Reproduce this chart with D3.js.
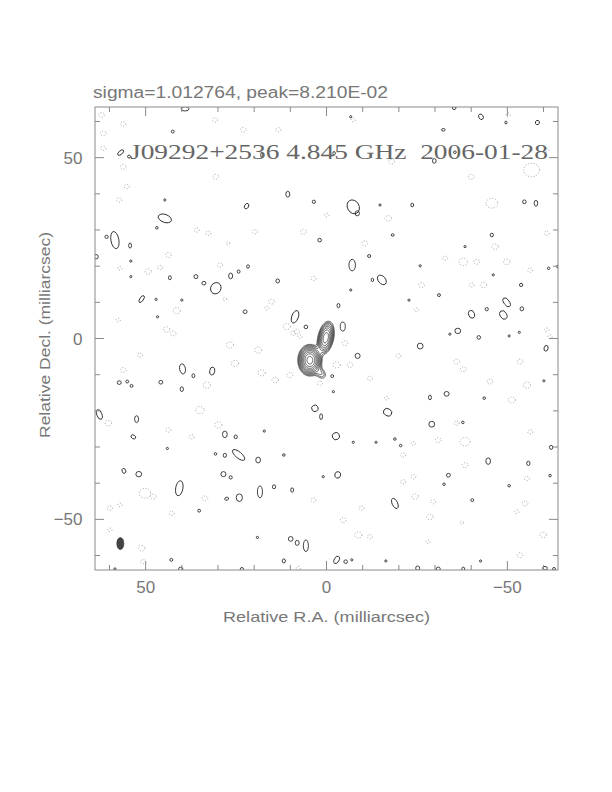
<!DOCTYPE html>
<html><head><meta charset="utf-8">
<script src="https://cdn.jsdelivr.net/npm/d3@7"></script>
<style>body{margin:0;background:#fff}</style></head>
<body>
<svg id="c" width="612" height="792"></svg>
<script>
// ---------- text ----------
const topTitle = "sigma=1.012764, peak=8.210E-02";
const mapLabel = "J09292+2536 4.845 GHz  2006-01-28";
const xTitle = "Relative R.A. (milliarcsec)";
const yTitle = "Relative Decl. (milliarcsec)";
// ---------- axes ----------
const raDomain = [64, -64];
const decDomain = [64, -64];
const majorTicks = [50, 0, -50];
const minorTicks = [60, 40, 30, 20, 10, -10, -20, -30, -40, -60];
// ---------- contour levels (mJy) ----------
const sigmaMJy = 1.012764;
const peakMJy = 82.10;
const levelSteps = [1, 1.414, 2, 2.828, 4, 5.657, 8, 11.31, 16, 22.63];
const lowestLevel = 3.0;
// ---------- core gaussian components ----------
const compRA  = [0.2, 4.6, 1.6];
const compDec = [0.2, -6.0, -9.6];
const compAmp = [44, 82.1, 6];
const compMaj = [2.0, 1.7, 1.3];
const compMin = [0.95, 1.3, 0.9];
const compPA  = [-12, 0, 40];
// ---------- restoring beam ----------
const beamPos = [57.0, -56.7];
const beamAxes = [0.97, 1.66];
// ---------- positive noise contours [ra, dec, halfRA, halfDec, tilt] ----------
const posBlobs = [
[39.1,63.5,1.1,0.6,0],[56.9,51.4,1.0,0.5,-40],[54.6,50.3,0.4,0.4,0],[42.5,57.2,0.4,0.4,0],
[17.8,50.7,0.4,0.7,0],[10.7,39.9,0.55,0.8,0],[3.5,37.8,0.45,0.45,0],[22.1,36.6,0.55,0.8,30],
[44.7,38.3,0.3,0.3,0],[44.7,33.2,1.9,1.1,20],[46.9,30.6,0.35,0.35,0],[58.5,27.2,1.1,2.4,-10],
[60.8,28.1,0.45,0.45,0],[54.3,25.7,0.4,0.7,0],[63.7,22.6,0.6,0.6,0],[54.1,21.4,0.3,0.3,0],
[1.9,27.2,0.5,0.5,0],[13.5,15.9,0.5,0.55,0],[43.3,16.8,0.4,0.55,0],[36.1,17.1,0.55,0.55,0],
[33.9,15.3,0.55,0.5,0],[30.6,13.9,1.4,1.6,30],[26.5,17.3,0.55,0.8,0],[24.3,18.5,0.4,0.45,0],
[21.7,19.9,0.4,0.45,0],[51.1,10.9,0.5,1.1,35],[47.1,10.8,0.3,0.3,0],[40.0,10.6,0.3,0.3,0],
[22.5,7.4,0.55,0.5,0],[46.7,6.0,0.3,0.3,0],[8.7,6.0,0.9,1.8,20],[5.7,3.2,0.5,0.5,0],
[54.1,17.1,0.3,0.3,0],[-35.3,63.7,0.5,0.4,0],[-42.7,61.3,0.6,0.8,-30],[-49.6,59.7,0.3,0.4,0],
[-58.3,59.7,0.55,0.6,20],[-32.3,57.7,0.5,0.35,0],[-2.1,51.2,0.35,0.5,0],[-35.5,51.5,0.4,0.35,0],
[-29.8,49.1,0.5,0.65,0],[-7.4,36.4,1.6,2.0,-30],[-8.5,34.6,0.6,0.7,0],[-14.8,36.9,0.3,0.3,0],
[-23.7,36.9,0.4,0.5,0],[-54.7,37.8,0.5,0.5,0],[-57.9,37.4,0.5,0.8,0],[-18.3,28.6,0.4,0.35,0],
[-45.7,28.6,0.45,0.5,0],[-38.3,25.4,0.3,0.3,0],[-7.1,20.3,0.9,1.6,0],[-11.8,22.8,0.45,0.4,0],
[-15.3,16.2,1.0,1.5,-40],[-12.7,16.2,0.35,0.45,0],[-25.9,20.1,0.3,0.3,0],[-46.1,17.6,0.3,0.3,0],
[-61.4,19.4,0.35,0.35,0],[-64.0,19.9,0.4,0.4,0],[-53.8,14.8,0.45,0.45,0],[-31.1,12.0,0.4,0.4,0],
[-49.8,10.0,0.75,1.4,-35],[-48.9,6.5,0.9,1.25,-30],[-40.1,6.7,0.8,1.1,-20],[-44.3,8.1,0.45,0.45,0],
[-54.0,8.2,0.5,0.55,0],[-3.3,9.1,0.4,0.6,0],[-4.5,3.3,0.7,1.25,0],[-36.3,2.1,0.8,0.75,0],
[-22.8,10.6,0.3,0.3,0],[-6.7,13.4,0.3,0.3,0],[-6.7,61.3,0.3,0.3,0],[39.8,-8.4,0.8,1.4,-10],
[36.8,-10.3,0.4,0.55,0],[31.6,-9.0,0.7,1.1,10],[57.3,-12.2,0.55,0.5,0],[55.1,-11.9,0.4,0.4,0],
[53.9,-13.1,0.4,0.4,0],[45.8,-12.1,0.55,0.5,0],[40.0,-14.0,0.45,0.65,0],[62.8,-21.0,0.7,1.4,-20],
[52.5,-22.3,0.55,0.95,0],[53.4,-27.2,0.7,0.5,30],[44.0,-30.4,0.3,0.3,0],[28.1,-26.5,0.65,0.9,0],
[25.1,-27.2,0.45,0.5,0],[17.2,-25.6,0.3,0.3,0],[3.2,-19.3,0.9,0.9,-30],[1.5,-21.6,0.4,0.8,0],
[30.7,-31.9,0.35,0.35,0],[28.1,-32.3,0.45,0.55,0],[24.3,-32.2,2.1,0.85,40],[18.9,-33.6,0.65,0.8,0],
[11.8,-32.2,0.35,0.35,0],[56.0,-36.6,0.5,0.7,-20],[51.9,-37.5,0.8,0.75,0],[28.5,-37.5,0.7,0.7,0],
[26.5,-38.4,0.45,0.45,0],[40.7,-41.4,1.0,2.1,10],[18.4,-42.4,0.7,1.65,0],[14.5,-41.0,0.45,0.55,0],
[9.5,-41.9,0.4,0.6,0],[24.1,-44.0,0.85,1.05,0],[27.6,-44.3,0.55,0.4,-20],[35.2,-47.6,0.4,0.4,0],
[19.1,-55.0,0.3,0.3,0],[9.9,-55.4,0.65,0.65,0],[8.1,-56.5,0.55,0.7,0],[5.7,-57.3,0.7,1.6,0],
[42.9,-61.2,0.4,0.4,0],[11.8,-61.5,0.45,0.55,0],[40.3,-63.8,0.6,0.6,0],[23.4,-63.8,0.45,0.5,0],
[58.5,-63.7,0.3,0.3,0],[-42.1,0.3,0.5,0.5,0],[-25.9,-2.1,0.8,0.8,0],[-8.6,-4.8,0.7,0.7,0],
[-60.7,-2.7,0.55,0.8,15],[-1.6,-10.4,0.4,0.4,0],[-33.2,-15.3,0.7,0.65,0],[-28.6,-16.3,0.4,0.65,0],
[-43.6,-16.5,0.35,0.35,0],[-16.9,-20.4,1.2,1.0,30],[-29.1,-23.7,0.8,0.8,0],[-37.7,-23.2,0.35,0.35,0],
[-2.6,-27.0,1.0,1.0,-30],[-18.9,-27.8,0.35,0.35,0],[-20.5,-29.6,0.35,0.35,0],[-7.4,-28.7,0.3,0.3,0],
[-13.7,-28.7,0.3,0.3,0],[-44.7,-33.9,0.65,0.9,0],[-55.8,-34.5,0.45,0.6,0],[-62.1,-30.1,0.45,0.55,0],
[-3.1,-37.7,0.8,0.9,20],[-33.7,-37.8,0.55,0.5,0],[-32.5,-40.3,0.35,0.35,0],[-50.5,-40.7,0.35,0.35,0],
[-61.8,-37.9,0.35,0.35,0],[0.9,-38.2,0.3,0.3,0],[-18.9,-45.6,0.75,1.5,-25],[-40.3,-44.7,0.4,0.4,0],
[-2.8,-61.2,0.65,1.1,30],[-5.3,-61.7,0.5,0.5,0],[-7.0,-61.2,0.3,0.3,0],[-25.2,-63.5,0.55,0.6,0],
[-30.9,-63.7,0.55,0.5,0],[-37.8,-63.7,0.4,0.5,0],[-60.4,-63.5,0.65,0.5,0],[-62.9,-63.7,0.4,0.4,0],
[-60.1,-11.7,0.3,0.3,0],[-34.1,1.2,0.3,0.3,0],[-50.5,0.7,0.3,0.3,0],[-53.3,1.7,0.3,0.3,0],
[-16.4,-61.5,0.3,0.3,0],[-42.6,-61.5,0.3,0.3,0],[-1.9,-14.7,0.3,0.3,0]
];
// ---------- negative (dotted) noise contours [ra, dec, radius] ----------
const negBlobs = [
[62.2,61.8,0.8],[56.2,59.3,0.7],[61.7,56.7,0.8],[61.7,52.6,0.7],[56.2,47.5,0.8],[30.8,60.4,0.7],
[30.6,44.7,0.8],[23.0,57.7,0.8],[13.3,57.7,0.7],[55.2,42.0,0.7],[57.3,38.3,0.7],[35.9,30.0,0.7],
[32.7,29.1,0.7],[19.8,29.5,0.7],[6.4,29.5,0.8],[43.7,23.1,0.8],[29.4,20.3,0.7],[49.3,18.5,0.9],
[46.0,19.6,0.7],[57.1,19.4,0.6],[3.6,16.6,0.7],[15.2,10.2,0.8],[41.4,7.7,1.0],[28.1,10.9,0.5],
[16.5,8.4,0.6],[11.0,3.3,1.0],[8.2,1.9,0.8],[44.2,2.5,0.9],[57.6,5.1,0.6],[27.2,26.3,0.5],
[-7.4,60.4,0.6],[-18.0,48.9,0.8],[-40.0,44.7,0.8],[-56.7,46.6,2.2],[-45.7,37.4,1.6],[-60.9,52.1,0.6],
[-17.1,33.2,0.9],[-10.6,26.3,0.8],[-46.6,25.4,0.9],[-32.8,22.2,0.7],[-37.8,21.2,1.2],[-41.5,21.2,0.8],
[-49.8,21.2,0.9],[-56.3,18.9,0.7],[-60.9,29.1,0.7],[-26.3,14.8,0.8],[-43.4,14.8,0.9],[-40.1,14.8,0.7],
[-24.9,7.9,0.6],[-0.1,34.1,0.6],[-50.2,61.8,0.6],[-60.9,2.4,0.6],[42.4,1.4,0.8],[26.7,-1.8,1.0],
[18.9,-3.2,1.0],[9.2,1.4,0.7],[7.3,0.5,0.6],[25.3,-6.9,1.0],[56.2,-8.7,0.8],[51.6,-4.6,0.7],
[17.9,-9.5,1.0],[14.2,-11.5,0.9],[33.1,-12.9,1.0],[35.0,-19.8,1.2],[29.9,-23.9,1.0],[43.7,-25.3,0.7],
[37.3,-27.2,0.7],[60.3,-23.4,0.9],[50.2,-42.8,1.6],[47.9,-43.7,0.8],[33.6,-44.2,0.8],[59.9,-46.9,0.7],
[57.1,-46.0,0.6],[42.8,-48.3,0.7],[3.6,-44.7,0.7],[59.9,-52.9,0.6],[51.1,-58.0,0.9],[50.7,-61.7,0.7],
[7.8,-63.5,0.6],[1.8,-12.4,0.7],[10.1,-10.1,0.8],[-5.1,-1.3,0.8],[-2.8,-7.3,1.0],[-6.5,-7.3,0.8],
[-19.9,-4.8,0.7],[-36.0,-6.4,0.8],[-37.8,-8.5,0.8],[-53.5,-6.4,0.8],[-45.2,-11.9,0.8],[-55.4,-12.9,1.0],
[-51.2,-17.0,1.0],[-12.0,-11.0,0.7],[-16.6,-16.5,0.6],[-36.0,-23.4,0.7],[-38.3,-28.5,1.4],[-30.9,-28.1,0.8],
[-24.0,-29.0,0.6],[-21.2,-32.2,0.7],[-38.3,-35.0,0.8],[-24.0,-38.2,0.7],[-21.2,-39.6,0.7],[-24.5,-43.7,0.9],
[-29.5,-45.1,0.7],[-28.6,-49.3,0.9],[-9.7,-46.9,0.7],[-54.9,-45.6,0.8],[-52.6,-47.9,0.6],[-55.4,-38.7,0.7],
[-56.3,-25.8,0.7],[-8.8,-54.3,1.0],[-12.0,-54.8,0.7],[-59.9,-54.3,0.9],[-53.5,-59.9,0.8],[-37.4,-50.9,0.5],
[-28.1,-56.2,0.6],[-4.6,-50.2,0.8],[-61.8,0.5,0.6]
];

// ---------- drawing ----------
const svg = d3.select("#c");
const x = d3.scaleLinear().domain(raDomain).range([95, 558]);
const y = d3.scaleLinear().domain(decDomain).range([107, 570]);
const kx = Math.abs(x(1) - x(0)), ky = Math.abs(y(1) - y(0));

svg.append("defs").append("clipPath").attr("id","clip")
  .append("rect").attr("x", x(raDomain[0])).attr("y", y(decDomain[0]))
  .attr("width", x(raDomain[1]) - x(raDomain[0])).attr("height", y(decDomain[1]) - y(decDomain[0]));

const plot = svg.append("g").attr("clip-path","url(#clip)");

// negative contours (dotted)
plot.append("g").selectAll("ellipse").data(negBlobs).join("ellipse")
  .attr("cx", d => x(d[0])).attr("cy", d => y(d[1]))
  .attr("rx", d => d[2] * kx).attr("ry", d => d[2] * ky * 0.85)
  .attr("fill","none").attr("stroke","#999").attr("stroke-width",0.9)
  .attr("stroke-dasharray","1 1.8");

// positive noise contours
plot.append("g").selectAll("ellipse").data(posBlobs).join("ellipse")
  .attr("cx", d => x(d[0])).attr("cy", d => y(d[1]))
  .attr("rx", d => d[2] * kx).attr("ry", d => d[3] * ky)
  .attr("transform", d => `rotate(${d[4]},${x(d[0])},${y(d[1])})`)
  .attr("fill","none").attr("stroke","#222").attr("stroke-width",0.85);

// core: gaussian model evaluated on a grid, contoured with d3.contours
const step = 0.1, ra0 = 16, dec0 = 12;
const nx = 300, ny = 320;
const vals = new Float64Array(nx * ny);
for (let j = 0; j < ny; j++) {
  const dec = dec0 - (j + 0.5) * step;
  for (let i = 0; i < nx; i++) {
    const ra = ra0 - (i + 0.5) * step;
    let v = 0;
    for (let k = 0; k < compRA.length; k++) {
      const pa = compPA[k] * Math.PI / 180;
      const dr = ra - compRA[k], dd = dec - compDec[k];
      const u = dr * Math.sin(pa) + dd * Math.cos(pa);
      const w = dr * Math.cos(pa) - dd * Math.sin(pa);
      v += compAmp[k] * Math.exp(-(u*u/(2*compMaj[k]*compMaj[k]) + w*w/(2*compMin[k]*compMin[k])));
    }
    vals[i + j * nx] = v;
  }
}
const levels = levelSteps.map(s => lowestLevel * s);
const conts = d3.contours().size([nx, ny]).thresholds(levels)(vals);
const proj = d3.geoTransform({ point(px, py) { this.stream.point(x(ra0 - px * step), y(dec0 - py * step)); } });
plot.append("g").selectAll("path").data(conts).join("path")
  .attr("d", d3.geoPath(proj)).attr("fill","none")
  .attr("stroke","#222").attr("stroke-width",0.75);

// beam
plot.append("ellipse").attr("cx", x(beamPos[0])).attr("cy", y(beamPos[1]))
  .attr("rx", beamAxes[0] * kx).attr("ry", beamAxes[1] * ky)
  .attr("fill","#444").attr("stroke","#222").attr("stroke-width",0.6);

// frame
svg.append("rect").attr("x", x(raDomain[0])).attr("y", y(decDomain[0]))
  .attr("width", x(raDomain[1]) - x(raDomain[0])).attr("height", y(decDomain[1]) - y(decDomain[0]))
  .attr("fill","none").attr("stroke","#8a8a8a").attr("stroke-width",1);

// ticks (inward on all four sides)
const tickCol = "#8a8a8a";
function ticks(vals, len) {
  const g = svg.append("g").attr("stroke", tickCol).attr("stroke-width", 1);
  vals.forEach(v => {
    g.append("line").attr("x1", x(v)).attr("x2", x(v)).attr("y1", y(decDomain[1])).attr("y2", y(decDomain[1]) - len);
    g.append("line").attr("x1", x(v)).attr("x2", x(v)).attr("y1", y(decDomain[0])).attr("y2", y(decDomain[0]) + len);
    g.append("line").attr("y1", y(v)).attr("y2", y(v)).attr("x1", x(raDomain[0])).attr("x2", x(raDomain[0]) + len);
    g.append("line").attr("y1", y(v)).attr("y2", y(v)).attr("x1", x(raDomain[1])).attr("x2", x(raDomain[1]) - len);
  });
}
ticks(minorTicks, 5);
ticks(majorTicks, 9);

const fmt = v => v < 0 ? "\u2212" + Math.abs(v) : String(v);
const txtCol = "#777";
const font = "'Liberation Sans', Arial, sans-serif";
svg.append("g").selectAll("text").data(majorTicks).join("text")
  .attr("x", d => x(d)).attr("y", 592.5).attr("text-anchor","middle")
  .attr("font-family", font).attr("font-size", 17).attr("fill", txtCol).text(fmt);
svg.append("g").selectAll("text").data(majorTicks).join("text")
  .attr("x", 82.5).attr("y", d => y(d)).attr("dy","0.36em").attr("text-anchor","end")
  .attr("font-family", font).attr("font-size", 17).attr("fill", txtCol).text(fmt);

svg.append("text").attr("x", 326.5).attr("y", 621.5).attr("text-anchor","middle")
  .attr("font-family", font).attr("font-size", 15).attr("fill", txtCol)
  .attr("textLength", 207).attr("lengthAdjust","spacingAndGlyphs").text(xTitle);
svg.append("text").attr("transform","translate(49.5,335) rotate(-90)").attr("text-anchor","middle")
  .attr("font-family", font).attr("font-size", 15).attr("fill", txtCol)
  .attr("textLength", 206).attr("lengthAdjust","spacingAndGlyphs").text(yTitle);

svg.append("text").attr("x", 93).attr("y", 98.3)
  .attr("font-family", font).attr("font-size", 16).attr("fill", txtCol)
  .attr("textLength", 295).attr("lengthAdjust","spacingAndGlyphs").text(topTitle);

svg.append("text").attr("x", 130).attr("y", 158.5).attr("xml:space","preserve")
  .attr("font-family", "'Liberation Serif', 'DejaVu Serif', serif").attr("font-size", 21).attr("fill", "#666")
  .attr("textLength", 418).attr("lengthAdjust","spacingAndGlyphs").text(mapLabel);
</script>
</body></html>
